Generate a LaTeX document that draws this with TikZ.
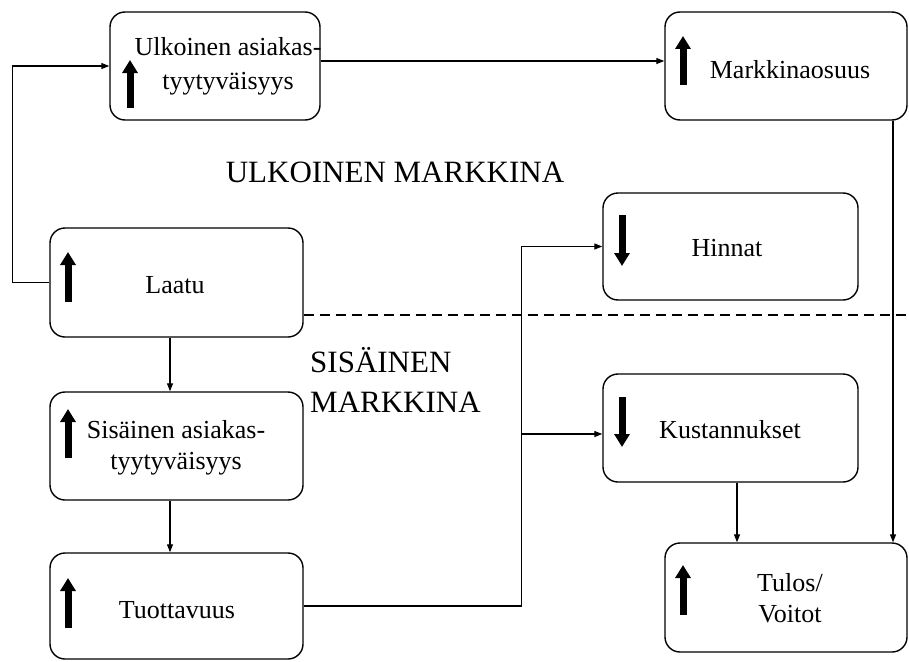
\documentclass[tikz,border=0pt]{standalone}
\usepackage{fontspec}
\setmainfont{Liberation Serif}
\usetikzlibrary{arrows.meta}
\begin{document}
\begin{tikzpicture}[x=1pt,y=-1pt,
  box/.style={draw, line width=1.4pt, rounded corners=15pt, inner sep=0pt},
  lbl/.style={align=center, font=\fontsize{26}{31}\selectfont, inner sep=0pt},
  region/.style={font=\fontsize{31}{40}\selectfont, inner sep=0pt},
  conn/.style={line width=1.2pt, -{Triangle[length=8pt,width=6pt]}},
  trend/.style={line width=7pt, -{Triangle[length=13pt,width=15pt]}},
  divider/.style={line width=2pt, dash pattern=on 10pt off 6pt},
]
\useasboundingbox (0,0) rectangle (909,661);

% boxes
\node[box, minimum width=210pt, minimum height=108pt] (ulk)    at (215,66)     {};
\node[box, minimum width=242pt, minimum height=108pt] (mark)   at (786,66)     {};
\node[box, minimum width=253pt, minimum height=109pt] (laatu)  at (176.5,282.5) {};
\node[box, minimum width=255pt, minimum height=107pt] (hinnat) at (730.5,246.5) {};
\node[box, minimum width=253pt, minimum height=108pt] (sis)    at (176.5,446)  {};
\node[box, minimum width=253pt, minimum height=106pt] (tuot)   at (176.5,606)  {};
\node[box, minimum width=255pt, minimum height=108pt] (kust)   at (730.5,428)  {};
\node[box, minimum width=242pt, minimum height=109pt] (tulos)  at (786,597.5)  {};

% box texts
\node[lbl, font=\fontsize{26}{34}\selectfont] (ulkT) at (228,66) {Ulkoinen asiakas-\\tyytyväisyys};
\node[lbl] (markT)   at (790,70)  {Markkinaosuus};
\node[lbl] (laatuT)  at (175,285) {Laatu};
\node[lbl] (hinnatT) at (727,248) {Hinnat};
\node[lbl] (sisT)    at (176,448) {Sisäinen asiakas-\\tyytyväisyys};
\node[lbl] (tuotT)   at (177,610) {Tuottavuus};
\node[lbl] (kustT)   at (730,430) {Kustannukset};
\node[lbl] (tulosT)  at (790,598) {Tulos/\\Voitot};

% trend arrows
\draw[trend] (130,108) -- (130,60);
\draw[trend] (683,85)  -- (683,36);
\draw[trend] (68,302)  -- (68,252);
\draw[trend] (622,215) -- (622,266);
\draw[trend] (68,458)  -- (68,409);
\draw[trend] (68,628)  -- (68,578);
\draw[trend] (622,397) -- (622,447);
\draw[trend] (683,615) -- (683,565);

% market regions
\node[region] (ext) at (395,172) {ULKOINEN MARKKINA};
\node[region, align=left, anchor=west] (int) at (310,380) {SISÄINEN\\MARKKINA};
\coordinate (dashend) at (907,315);
\draw[divider] (laatu.east |- dashend) -- (dashend);

% connectors
\draw[conn] (laatu.west) -- ++(-37,0) |- (ulk.west);
\draw[conn] ([yshift=5pt]ulk.east) -- ([yshift=5pt]mark.west);
\draw[conn] ([xshift=107pt]mark.south) -- ([xshift=107pt]tulos.north);
\draw[conn] ([xshift=-6.5pt]laatu.south) -- ([xshift=-6.5pt]sis.north);
\draw[conn] ([xshift=-6.5pt]sis.south) -- ([xshift=-6.5pt]tuot.north);
\coordinate (trunk) at (521,434);
\draw[conn] (tuot.east) -- ++(218,0) |- (hinnat.west);
\draw[conn] (trunk) -- (trunk -| kust.west);
\draw[conn] ([xshift=6.5pt]kust.south) -- ([xshift=6.5pt]kust.south |- tulos.north);
\end{tikzpicture}
\end{document}
